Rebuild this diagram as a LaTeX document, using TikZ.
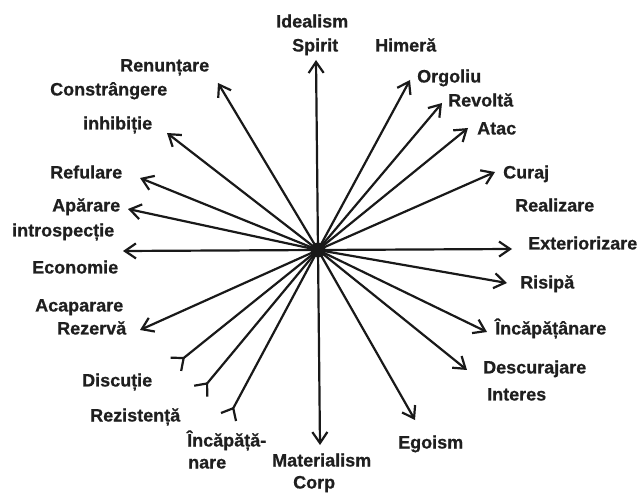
\documentclass[tikz,border=0pt]{standalone}
\usepackage{fontspec}
\setmainfont{Liberation Sans}[BoldFeatures={FakeBold=0.6}]
\usetikzlibrary{arrows.meta}
\begin{document}
\begin{tikzpicture}[x=1pt,y=-1pt,
 lbl/.style={anchor=base west, inner sep=0pt, text=black!88, font=\fontsize{18}{20}\selectfont\bfseries},
 ray/.style={line width=2.2pt, black!90, -{Straight Barb[length=11pt,width=15pt]}},
 rev/.style={line width=2.2pt, black!90, -{Straight Barb[reversed,length=10pt,width=17pt]}}]
\useasboundingbox (0,0) rectangle (643,494);
\fill[white] (0,0) rectangle (643,494);
\coordinate (C) at (318,250);
% tips
\coordinate (tSpirit) at (316,60);
\coordinate (tOrgoliu) at (410,80);
\coordinate (tRevolta) at (442,103);
\coordinate (tAtac) at (468,128);
\coordinate (tCuraj) at (495,172);
\coordinate (tExt) at (512,249);
\coordinate (tRisipa) at (507,283);
\coordinate (tIncR) at (487,332);
\coordinate (tDesc) at (467,370);
\coordinate (tEgoism) at (415,420);
\coordinate (tMat) at (320,445);
\coordinate (tIncL) at (228,418);
\coordinate (tRez) at (200,392);
\coordinate (tDisc) at (175,365);
\coordinate (tRezerva) at (140,330);
\coordinate (tEcon) at (123,251);
\coordinate (tAparare) at (128,209);
\coordinate (tRefulare) at (140,178);
\coordinate (tInhib) at (167,133);
\coordinate (tRenunt) at (218,83);
% rays
\foreach \t in {tSpirit,tOrgoliu,tRevolta,tAtac,tCuraj,tExt,tRisipa,tIncR,tDesc,tEgoism,tMat,tRezerva,tEcon,tAparare,tRefulare,tInhib,tRenunt}
  \draw[ray] (C) -- (\t);
\foreach \t in {tIncL,tRez,tDisc}
  \draw[rev] (C) -- (\t);
\fill[black!90] (C) circle (7.5);
% labels
\node[lbl] (Idealism) at (276,27.5) {Idealism};
\node[lbl] (Spirit) at (292,51.5) {Spirit};
\node[lbl] (Himera) at (375,51.5) {Himeră};
\node[lbl] (Orgoliu) at (417,82.5) {Orgoliu};
\node[lbl] (Revolta) at (448,106.5) {Revoltă};
\node[lbl] (Atac) at (477,134.5) {Atac};
\node[lbl] (Curaj) at (503,178.5) {Curaj};
\node[lbl] (Realizare) at (515,211.5) {Realizare};
\node[lbl] (Exteriorizare) at (528,249.5) {Exteriorizare};
\node[lbl] (Risipa) at (520,288.5) {Risipă};
\node[lbl] (IncR) at (495,334.5) {Încăpățânare};
\node[lbl] (Descurajare) at (483,373.5) {Descurajare};
\node[lbl] (Interes) at (487,400.5) {Interes};
\node[lbl] (Egoism) at (398,448.5) {Egoism};
\node[lbl] (Materialism) at (272,466.5) {Materialism};
\node[lbl] (Corp) at (293,488.5) {Corp};
\node[lbl] (IncL1) at (187,446.5) {Încăpăță-};
\node[lbl] (IncL2) at (188,468.5) {nare};
\node[lbl] (Rezistenta) at (90,421.5) {Rezistență};
\node[lbl] (Discutie) at (82,386.5) {Discuție};
\node[lbl] (Rezerva) at (57,334.5) {Rezervă};
\node[lbl] (Acaparare) at (35,311.5) {Acaparare};
\node[lbl] (Economie) at (32,273.5) {Economie};
\node[lbl] (Introspectie) at (12,236.5) {introspecție};
\node[lbl] (Aparare) at (52,211.5) {Apărare};
\node[lbl] (Refulare) at (50,178.5) {Refulare};
\node[lbl] (Inhibitie) at (83,129.5) {inhibiție};
\node[lbl] (Constrangere) at (50,95.5) {Constrângere};
\node[lbl] (Renuntare) at (120,71.5) {Renunțare};
\end{tikzpicture}
\end{document}
